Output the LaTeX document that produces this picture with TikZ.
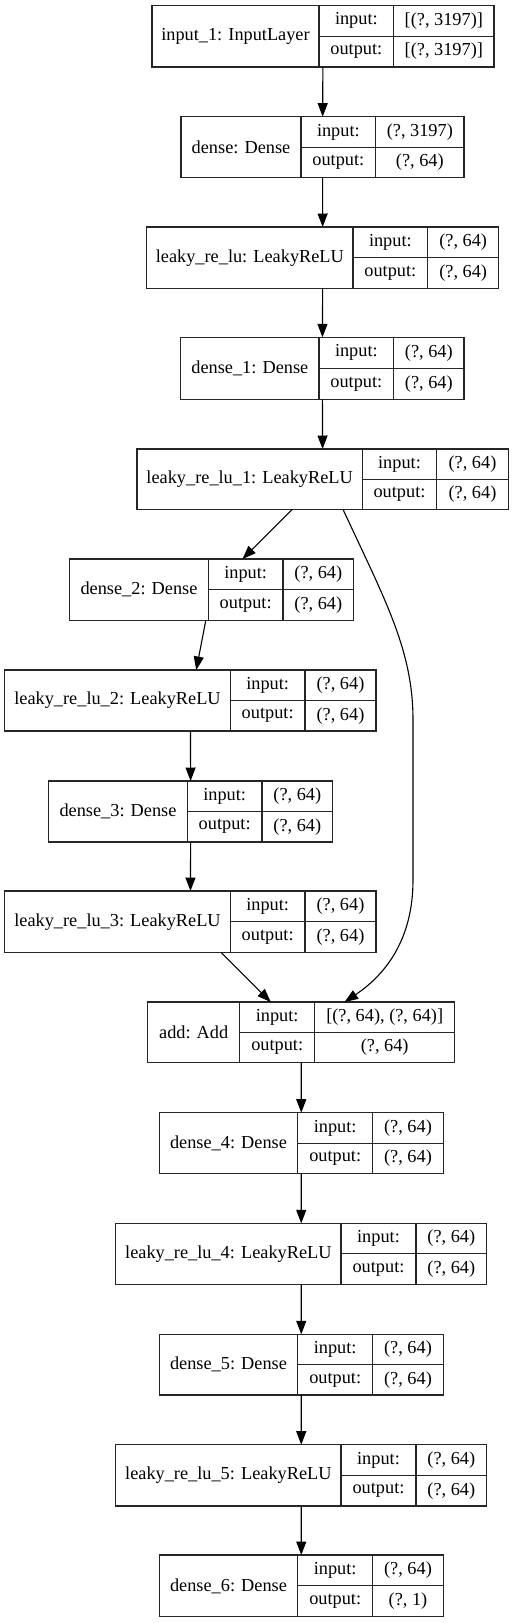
\documentclass[tikz,border=0pt]{standalone}
\usepackage{fontspec}
\setmainfont{Liberation Serif}
\usetikzlibrary{arrows.meta}
\tikzset{
  frame/.style={inner sep=0pt, outer sep=0pt},
  cell/.style={draw=black!85, line width=1.2pt, inner sep=0pt, outer sep=0pt},
  arr/.style={-{Triangle[length=13.5pt,width=10pt]}, line width=1.1pt, black}
}
\newcommand\mkbox[8]{%
  \pgfmathsetmacro\bxW{#6-#3}\pgfmathsetmacro\bxH{#8-#7}%
  \pgfmathsetmacro\bxCx{(#3+#6)/2}\pgfmathsetmacro\bxCy{(#7+#8)/2}%
  \pgfmathsetmacro\bxA{#4-#3}\pgfmathsetmacro\bxB{#5-#4}\pgfmathsetmacro\bxC{#6-#5}%
  \pgfmathsetmacro\bxh{(#8-#7)/2}%
  \node[frame, minimum width=\bxW pt, minimum height=\bxH pt] (#1) at (\bxCx,\bxCy) {};
  \node[cell, anchor=north west, minimum width=\bxA pt, minimum height=\bxH pt] (#1-l) at (#3,#7) {#2};
  \node[cell, anchor=north west, minimum width=\bxB pt, minimum height=\bxh pt] (#1-ik) at (#4,#7) {input:};
  \node[cell, anchor=south west, minimum width=\bxB pt, minimum height=\bxh pt] (#1-ok) at (#4,#8) {output:};
  \def\bxX{#5}\def\bxT{#7}\def\bxBt{#8}%
  \mkvals{#1}}
\newcommand\mkvals[3]{%
  \node[cell, anchor=north west, minimum width=\bxC pt, minimum height=\bxh pt] (#1-iv) at (\bxX,\bxT) {#2};
  \node[cell, anchor=south west, minimum width=\bxC pt, minimum height=\bxh pt] (#1-ov) at (\bxX,\bxBt) {#3};}
\begin{document}
\begin{tikzpicture}[x=1pt, y=-1pt, font=\fontsize{18.3}{22}\selectfont]
\useasboundingbox[fill=white] (0,0) rectangle (513,1623);
\mkbox{in1}{input\_1: InputLayer}{152}{319}{393.7}{494}{5.3}{67}{[(?, 3197)]}{[(?, 3197)]}
\mkbox{d0}{dense: Dense}{181}{301}{375.7}{464}{116.7}{177.7}{(?, 3197)}{(?, 64)}
\mkbox{l0}{leaky\_re\_lu: LeakyReLU}{146.7}{353}{427.7}{498.7}{227}{288.3}{(?, 64)}{(?, 64)}
\mkbox{d1}{dense\_1: Dense}{180.7}{319}{393.7}{464}{337.3}{399.3}{(?, 64)}{(?, 64)}
\mkbox{l1}{leaky\_re\_lu\_1: LeakyReLU}{137}{362.3}{436.7}{508.3}{449}{509.3}{(?, 64)}{(?, 64)}
\mkbox{d2}{dense\_2: Dense}{69.7}{208.3}{283}{353.7}{559}{620.3}{(?, 64)}{(?, 64)}
\mkbox{l2}{leaky\_re\_lu\_2: LeakyReLU}{4.7}{230.3}{305}{376}{670}{731}{(?, 64)}{(?, 64)}
\mkbox{d3}{dense\_3: Dense}{48.7}{187.3}{262}{332.7}{781}{842}{(?, 64)}{(?, 64)}
\mkbox{l3}{leaky\_re\_lu\_3: LeakyReLU}{4.7}{230.3}{305}{376}{891}{952.7}{(?, 64)}{(?, 64)}
\mkbox{add}{add: Add}{147.7}{239.7}{314.7}{454.7}{1002}{1062.7}{[(?, 64), (?, 64)]}{(?, 64)}
\mkbox{d4}{dense\_4: Dense}{159.3}{297.7}{372.7}{443.3}{1112.7}{1173.7}{(?, 64)}{(?, 64)}
\mkbox{l4}{leaky\_re\_lu\_4: LeakyReLU}{115.7}{341}{416}{486.7}{1223.3}{1284.3}{(?, 64)}{(?, 64)}
\mkbox{d5}{dense\_5: Dense}{159.3}{297.7}{372.7}{443.3}{1334.3}{1395}{(?, 64)}{(?, 64)}
\mkbox{l5}{leaky\_re\_lu\_5: LeakyReLU}{115.7}{341}{416}{486.7}{1444.7}{1506}{(?, 64)}{(?, 64)}
\mkbox{d6}{dense\_6: Dense}{159.3}{297.7}{372.7}{443.3}{1555}{1616.7}{(?, 64)}{(?, 1)}
% connectors
\draw[arr] (in1) -- (d0);
\draw[arr] (d0) -- (l0);
\draw[arr] (l0) -- (d1);
\draw[arr] (d1) -- (l1);
\draw[arr] (l1) -- (d2);
\draw[arr] (d2) -- (l2);
\draw[arr] (l2) -- (d3);
\draw[arr] (d3) -- (l3);
\draw[arr] (l3) -- (add);
\draw[arr] (l1.-56) .. controls (385,600) and (413,650) .. (413,720) -- (413,880) .. controls (413,940) and (385,975) .. (add.35.3);
\draw[arr] (add) -- (d4);
\draw[arr] (d4) -- (l4);
\draw[arr] (l4) -- (d5);
\draw[arr] (d5) -- (l5);
\draw[arr] (l5) -- (d6);
\end{tikzpicture}
\end{document}
